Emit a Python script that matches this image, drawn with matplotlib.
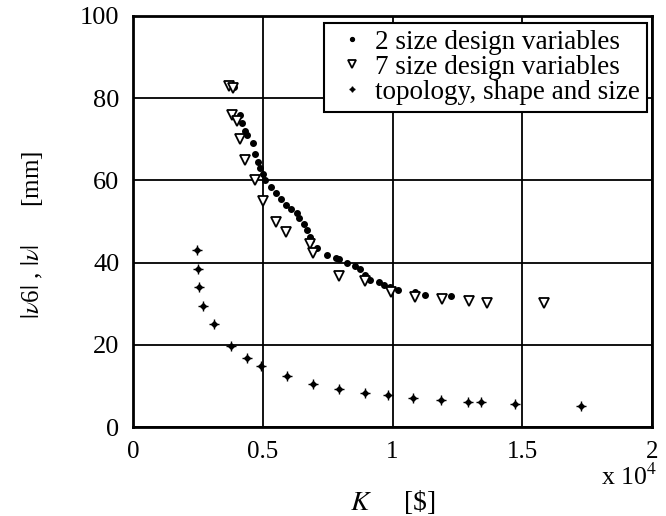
import matplotlib.pyplot as plt
from matplotlib.legend_handler import HandlerTuple

plt.rcParams['font.family'] = 'Liberation Serif'
plt.rcParams['mathtext.fontset'] = 'stix'

# cost K in units of 1e4 $, displacement in mm
k_2size = [0.39, 0.41, 0.42, 0.43, 0.44, 0.46, 0.47, 0.48, 0.49, 0.50, 0.51, 0.53,
           0.55, 0.57, 0.59, 0.61, 0.63, 0.64, 0.66, 0.67, 0.68, 0.685, 0.71, 0.746,
           0.782, 0.795, 0.823, 0.855, 0.875, 0.894, 0.913, 0.948, 0.965, 0.99,
           1.022, 1.087, 1.123, 1.225]
v_2size = [82.7, 76, 74, 72, 71, 69, 66.5, 64.5, 63, 61.5, 60, 58.5,
           57, 55.5, 54, 53, 52, 51, 49.5, 48, 46.3, 45.5, 43.7, 41.8,
           41.2, 40.8, 40, 39.2, 38.4, 37, 35.8, 35.2, 34.5, 34,
           33.3, 32.9, 32.1, 31.9]

k_7size = [0.37, 0.385, 0.38, 0.40, 0.41, 0.43, 0.47, 0.50, 0.55, 0.59, 0.682,
           0.692, 0.795, 0.894, 0.994, 1.087, 1.19, 1.296, 1.365, 1.585]
v_7size = [83, 82.5, 76, 74.5, 70, 65, 60, 55, 50, 47.5, 44.5,
           42.4, 36.8, 35.6, 32.9, 31.7, 31.1, 30.7, 30.3, 30.3]

k_topo = [0.245, 0.25, 0.255, 0.27, 0.31, 0.378, 0.438, 0.493, 0.592, 0.692,
          0.794, 0.894, 0.984, 1.08, 1.187, 1.29, 1.34, 1.47, 1.726]
v_topo = [43, 38.5, 34, 29.5, 25, 19.8, 16.9, 14.9, 12.5, 10.6,
          9.4, 8.4, 7.8, 7.0, 6.6, 6.2, 6.1, 5.6, 5.1]

fig = plt.figure(figsize=(6.66, 5.16), dpi=100)
ax = fig.add_axes([0.2, 0.172, 0.779, 0.797])

h1, = ax.plot(k_2size, v_2size, 'o', color='black', markersize=4, linestyle='none')
h2, = ax.plot(k_7size, v_7size, 'v', markerfacecolor='white', markeredgecolor='black',
              markeredgewidth=1.3, markersize=7.5, linestyle='none')
# star marker: thin cross with a dark centre
h3a, = ax.plot(k_topo, v_topo, '+', color='black', markersize=7, markeredgewidth=1,
               linestyle='none')
h3b, = ax.plot(k_topo, v_topo, 'D', color='black', markersize=3, linestyle='none')

ax.set_xlim(0, 2)
ax.set_ylim(0, 100)
ax.set_xticks([0, 0.5, 1, 1.5, 2])
ax.set_xticklabels(['0', '0.5', '1', '1.5', '2'])
ax.set_yticks([0, 20, 40, 60, 80, 100])
ax.grid(True, color='black', linewidth=1.3)
ax.set_axisbelow(True)
ax.tick_params(axis='x', length=0, labelsize=18, pad=10)
ax.tick_params(axis='y', length=0, labelsize=19, pad=10)
for s in ax.spines.values():
    s.set_linewidth(2)

ax.set_xlabel(r'$K$     [\$]', fontsize=20, labelpad=18)
ax.set_ylabel(r'$|\nu$6$|$ , $|\nu|$      [mm]', fontsize=18)
ax.yaxis.set_label_coords(-0.17, 0.467)
fig.text(0.902, 0.06, r'x 10$^4$', fontsize=18.5, ha='left', va='baseline')

leg = ax.legend([h1, h2, (h3a, h3b)],
                ['2 size design variables', '7 size design variables',
                 'topology, shape and size'],
                handler_map={tuple: HandlerTuple(ndivide=1)},
                loc='upper right', bbox_to_anchor=(0.990, 0.983), fontsize=19.5,
                frameon=True, fancybox=False, edgecolor='black', framealpha=1,
                handletextpad=0.05, borderpad=0.25, labelspacing=0,
                handlelength=1.6, borderaxespad=0, markerscale=0.7)
leg.get_frame().set_linewidth(1.5)

fig.savefig('out.png', dpi=100)
